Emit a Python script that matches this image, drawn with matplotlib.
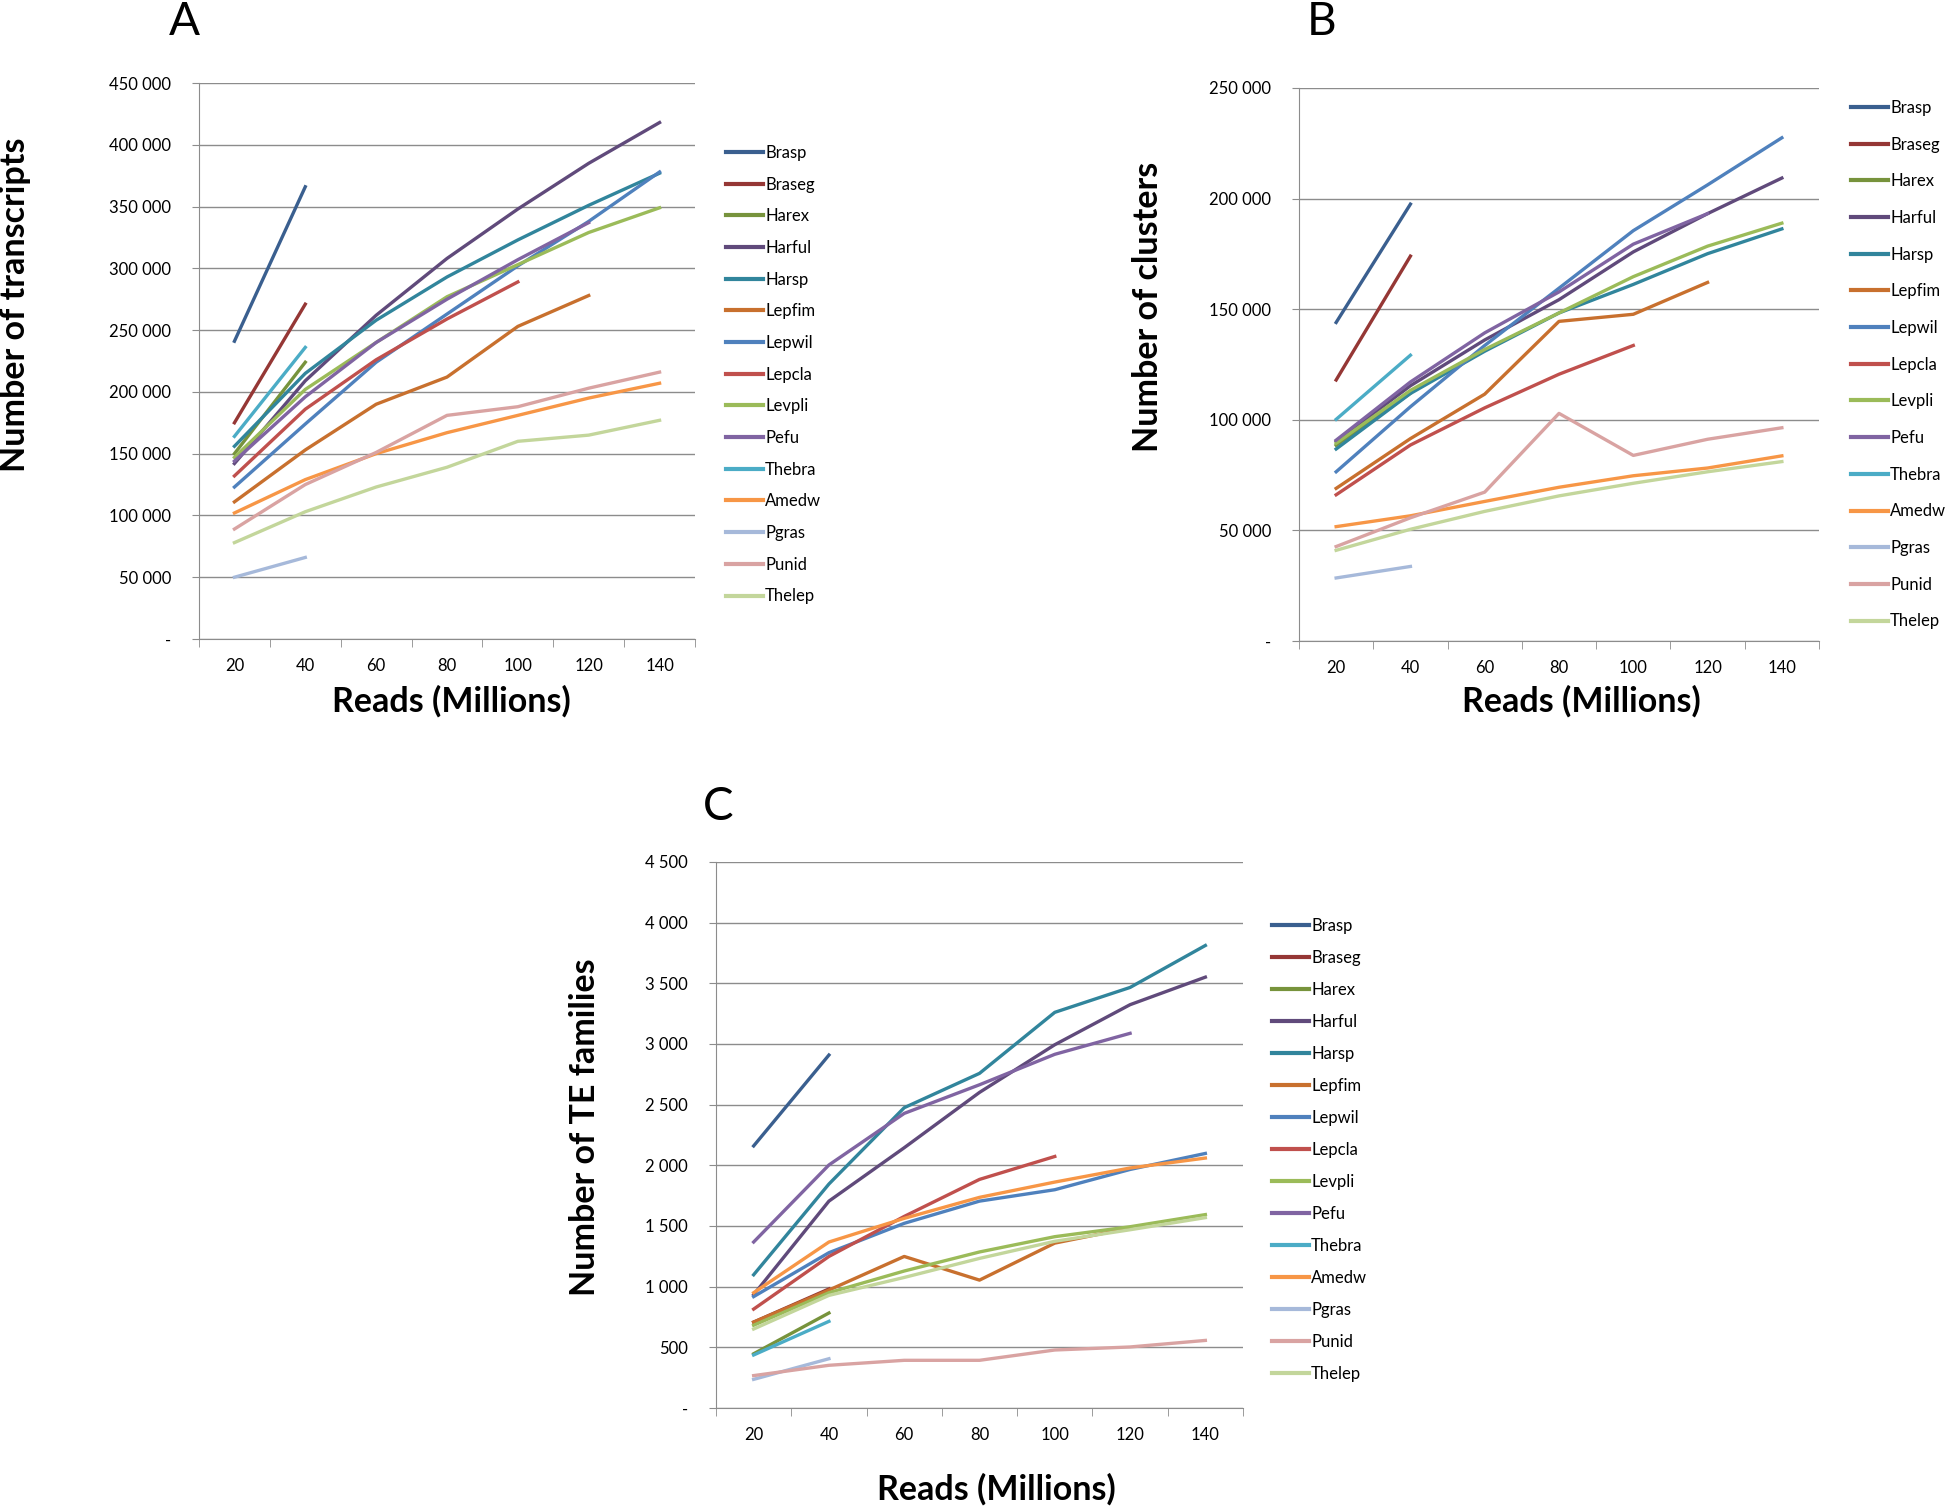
import matplotlib.pyplot as plt
from matplotlib.ticker import FuncFormatter

plt.rcParams['font.family'] = ['Lato', 'DejaVu Sans']

reads = [20, 40, 60, 80, 100, 120, 140]

species = ['Brasp', 'Braseg', 'Harex', 'Harful', 'Harsp', 'Lepfim', 'Lepwil', 'Lepcla',
           'Levpli', 'Pefu', 'Thebra', 'Amedw', 'Pgras', 'Punid', 'Thelep']

colors = ['#3A5F8F', '#953735', '#77933C', '#604A7B', '#31859C', '#C8702E', '#4F81BD', '#C0504D',
          '#9BBB59', '#8064A2', '#4BACC6', '#F79646', '#A6B9DA', '#D9A3A2', '#C3D69B']

# panel A - number of transcripts
transcripts = [
    [241000, 366000],
    [175000, 271000],
    [150000, 224000],
    [142000, 209000, 262000, 308000, 348000, 385000, 418000],
    [156000, 215000, 258000, 293000, 323000, 351000, 377000],
    [111000, 153000, 190000, 212000, 253000, 278000],
    [123000, 174000, 224000, 263000, 302000, 338000, 378000],
    [132000, 186000, 226000, 259000, 289000],
    [147000, 202000, 240000, 277000, 303000, 329000, 349000],
    [144000, 196000, 240000, 275000, 307000, 337000],
    [164000, 236000],
    [102000, 129000, 150000, 167000, 181000, 195000, 207000],
    [50000, 66000],
    [89000, 125000, 151000, 181000, 188000, 203000, 216000],
    [78000, 103000, 123000, 139000, 160000, 165000, 177000],
]

# panel B - number of clusters
clusters = [
    [144000, 197500],
    [118000, 174000],
    [88500, 112000],
    [90300, 115400, 136100, 154300, 175900, 193200, 209300],
    [86800, 111900, 131000, 148300, 161200, 175100, 186300],
    [69000, 91500, 111600, 144500, 147700, 162100],
    [76500, 105900, 133600, 159500, 185500, 206200, 227500],
    [66100, 88600, 105400, 120600, 133600],
    [89400, 113300, 131800, 148300, 164700, 178500, 188900],
    [90800, 117100, 139300, 157800, 179400, 193200],
    [100200, 129200],
    [51700, 56600, 63100, 69500, 74700, 78200, 83700],
    [28500, 33700],
    [42700, 55700, 67300, 102900, 83900, 91200, 96400],
    [41000, 50500, 58600, 65600, 71300, 76500, 81100],
]

# panel C - number of TE families
te_families = [
    [2160, 2909],
    [708, 981],
    [447, 783],
    [934, 1705, 2145, 2601, 2994, 3324, 3551],
    [1098, 1846, 2475, 2758, 3261, 3466, 3812],
    [708, 972, 1249, 1054, 1359, 1484],
    [918, 1280, 1522, 1705, 1799, 1966, 2098],
    [815, 1249, 1579, 1884, 2073],
    [682, 950, 1129, 1286, 1412, 1494, 1594],
    [1368, 2003, 2428, 2664, 2915, 3088],
    [437, 714],
    [950, 1368, 1563, 1736, 1862, 1978, 2060],
    [236, 406],
    [267, 352, 393, 393, 478, 503, 557],
    [651, 928, 1076, 1233, 1374, 1469, 1569],
]

W, H = 1952, 1508
fig = plt.figure(figsize=(W / 100, H / 100), dpi=100)
grid_col = '#8C8C8C'


def fmt(v, pos):
    if v == 0:
        return '-'
    return '{:,}'.format(int(v)).replace(',', ' ')


def panel(box, values, ymax, ystep, ylabel, letter, letter_xy, ylabel_xy, xlabel_xy, legend_xy, spacing):
    l, t, r, b = box
    ax = fig.add_axes([l / W, 1 - b / H, (r - l) / W, (b - t) / H])
    for name, col, vals in zip(species, colors, values):
        ax.plot(reads[:len(vals)], vals, color=col, lw=2.4, label=name)
    ax.set_xlim(10, 150)
    ax.set_ylim(0, ymax)
    ax.set_xticks(reads)
    ax.set_xticks(range(10, 151, 20), minor=True)
    ax.tick_params(axis='x', which='major', length=0, pad=14, labelsize=12)
    ax.tick_params(axis='x', which='minor', length=6, color=grid_col, direction='out')
    ax.set_yticks(range(0, ymax + 1, ystep))
    ax.yaxis.set_major_formatter(FuncFormatter(fmt))
    ax.tick_params(axis='y', length=5, color=grid_col, pad=15, labelsize=12)
    ax.grid(axis='y', color=grid_col, lw=1)
    ax.set_axisbelow(True)
    for s in ['top', 'right']:
        ax.spines[s].set_visible(False)
    for s in ['left', 'bottom']:
        ax.spines[s].set_color(grid_col)
    fig.text(letter_xy[0] / W, 1 - letter_xy[1] / H, letter, fontsize=33, ha='center', va='center')
    fig.text(ylabel_xy[0] / W, 1 - ylabel_xy[1] / H, ylabel, fontsize=24.5, fontweight='bold',
             rotation=90, ha='center', va='center')
    fig.text(xlabel_xy[0] / W, 1 - xlabel_xy[1] / H, 'Reads (Millions)', fontsize=24.5,
             fontweight='bold', ha='center', va='center')
    leg = ax.legend(loc='upper left', bbox_to_anchor=(legend_xy[0] / W, 1 - legend_xy[1] / H),
                    bbox_transform=fig.transFigure, frameon=False, fontsize=12,
                    handlelength=2.2, handletextpad=0.15, labelspacing=spacing,
                    borderpad=0, borderaxespad=0)
    for line in leg.get_lines():
        line.set_linewidth(3)
    return ax


panel((199, 83, 695, 639), transcripts, 450000, 50000, 'Number of transcripts', 'A',
      (184, 22), (15, 305), (451, 701), (726, 145), 0.94)
panel((1299, 88, 1819, 641), clusters, 250000, 50000, 'Number of clusters', 'B',
      (1322, 22), (1148, 307), (1581, 701), (1851, 100), 1.24)
panel((716, 862, 1243, 1408), te_families, 4500, 500, 'Number of TE families', 'C',
      (718, 807), (585, 1127), (996, 1489), (1272, 918), 0.96)

fig.savefig('out.png', dpi=100)
